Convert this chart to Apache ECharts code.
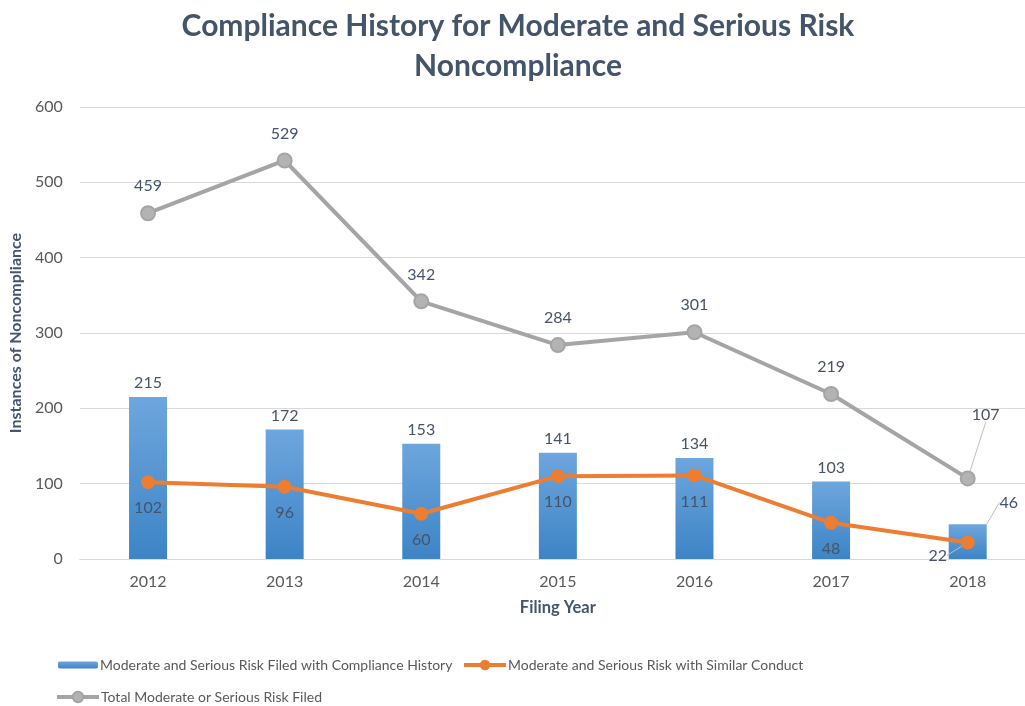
<!DOCTYPE html>
<html>
<head>
<meta charset="utf-8">
<script src="https://cdn.jsdelivr.net/npm/echarts@6/dist/echarts.min.js"></script>
<style>
  html, body { margin: 0; padding: 0; background: #fff; overflow: hidden; }
  /* plot area runs past the right edge of the window, like the cropped original */
  #chart { width: 1036px; height: 706px; }
</style>
</head>
<body>
<div id="chart"></div>
<script>
const years = ['2012', '2013', '2014', '2015', '2016', '2017', '2018'];
const withHistory = [215, 172, 153, 141, 134, 103, 46];
const similarConduct = [102, 96, 60, 110, 111, 48, 22];
const totalFiled = [459, 529, 342, 284, 301, 219, 107];

const NAME_BAR = 'Moderate and Serious Risk Filed with Compliance History';
const NAME_ORANGE = 'Moderate and Serious Risk with Similar Conduct';
const NAME_GRAY = 'Total Moderate or Serious Risk Filed';

const FONT = 'Lato, "Open Sans", sans-serif';
const TXT = '#595959';
const LBL = '#44546a';

// the last labels are pushed off their points with a leader line, like the original
const grayMoves = { 6: { dx: 18, dy: -37 } };
const barMoves = { 6: { dx: 41, dy: -8 } };
const orangeMoves = { 6: { dx: -30, dy: -13 } };
const leader = { show: true, lineStyle: { color: '#bfbfbf', width: 1 } };

const chart = echarts.init(document.getElementById('chart'));
chart.setOption({
  backgroundColor: '#fff',
  textStyle: { fontFamily: FONT },
  title: {
    text: 'Compliance History for Moderate and Serious Risk\nNoncompliance',
    left: 'center',
    top: 1,
    textStyle: { fontFamily: FONT, fontSize: 30, fontWeight: 'bold', color: '#44546a', lineHeight: 40 },
  },
  legend: [
    { data: [NAME_BAR], left: 53, top: 653, itemWidth: 40, itemHeight: 7,
      textStyle: { color: TXT, fontSize: 14, padding: [0, 0, 0, -3] } },
    { data: [NAME_ORANGE], left: 457, top: 653, itemWidth: 42, itemHeight: 13,
      lineStyle: { width: 4 },
      textStyle: { color: TXT, fontSize: 14, padding: [0, 0, 0, -3] } },
    { data: [NAME_GRAY], left: 50, top: 685, itemWidth: 42, itemHeight: 13,
      lineStyle: { width: 4 },
      textStyle: { color: TXT, fontSize: 14, padding: [0, 0, 0, -3] } },
  ],
  grid: { left: 79, right: 0, top: 107, bottom: 147 },
  xAxis: {
    type: 'category',
    data: years,
    name: 'Filing Year',
    nameLocation: 'middle',
    nameGap: 40,
    nameTextStyle: { color: LBL, fontSize: 16.5, fontWeight: 'bold' },
    axisLine: { lineStyle: { color: '#d9d9d9' } },
    axisTick: { show: false },
    axisLabel: { color: TXT, fontSize: 16, margin: 15 },
  },
  yAxis: {
    type: 'value',
    min: 0, max: 600, interval: 100,
    name: 'Instances of Noncompliance',
    nameLocation: 'middle',
    nameGap: 50,
    nameTextStyle: { color: LBL, fontSize: 16, fontWeight: 'bold' },
    axisLabel: { color: TXT, fontSize: 16, margin: 17 },
    splitLine: { lineStyle: { color: '#d9d9d9' } },
  },
  series: [
    {
      name: NAME_BAR,
      type: 'bar',
      barWidth: 38,
      data: withHistory.map((v, i) => barMoves[i] ? { value: v, labelLine: leader } : v),
      itemStyle: {
        color: new echarts.graphic.LinearGradient(0, 0, 0, 1, [
          { offset: 0, color: '#6ea6dd' },
          { offset: 1, color: '#3d84c6' },
        ]),
      },
      label: { show: true, position: 'top', distance: 6, color: LBL, fontSize: 16 },
      labelLayout: p => barMoves[p.dataIndex] || {},
      z: 1,
    },
    {
      name: NAME_ORANGE,
      type: 'line',
      data: similarConduct.map((v, i) => orangeMoves[i] ? { value: v, labelLine: leader } : v),
      lineStyle: { color: '#ed7d31', width: 4 },
      itemStyle: { color: '#ed7d31' },
      symbol: 'circle',
      symbolSize: 14,
      label: { show: true, position: 'bottom', distance: 11, color: LBL, fontSize: 16 },
      labelLayout: p => orangeMoves[p.dataIndex] || {},
      z: 3,
    },
    {
      name: NAME_GRAY,
      type: 'line',
      data: totalFiled.map((v, i) => grayMoves[i] ? { value: v, labelLine: leader } : v),
      lineStyle: { color: '#a5a5a5', width: 4 },
      itemStyle: { color: '#b3b3b3', borderColor: '#a5a5a5', borderWidth: 2 },
      symbol: 'circle',
      symbolSize: 14,
      label: { show: true, position: 'top', distance: 11, color: LBL, fontSize: 16 },
      labelLayout: p => grayMoves[p.dataIndex] || {},
      z: 2,
    },
  ],
});
</script>
</body>
</html>
